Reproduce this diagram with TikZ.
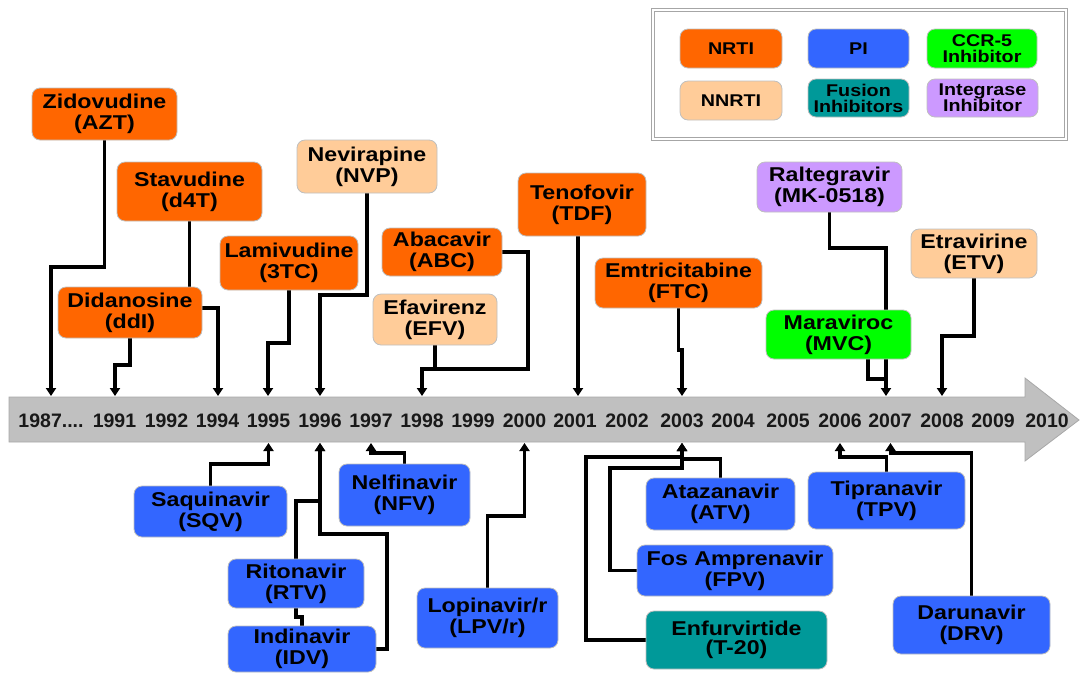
\documentclass[tikz,border=0pt]{standalone}
\usepackage{fontspec}
\usetikzlibrary{arrows.meta}
\newfontfamily\bx{Liberation Sans}[FakeStretch=1.16]
\newfontfamily\yrf{Liberation Sans}
\definecolor{nrti}{HTML}{FF6600}
\definecolor{nnrti}{HTML}{FFCC99}
\definecolor{pi}{HTML}{3366FF}
\definecolor{ccr}{HTML}{00FF00}
\definecolor{fus}{HTML}{009999}
\definecolor{intg}{HTML}{CC99FF}
\definecolor{tlgray}{HTML}{C0C0C0}
\definecolor{tledge}{HTML}{A8A8A8}
\pgfdeclarelayer{background}
\pgfsetlayers{background,main}
\tikzset{
  box/.style={rounded corners=8pt, draw=black!25, line width=0.8pt, inner sep=0pt,
    align=center, text=black, font=\bx\bfseries\fontsize{20}{21}\selectfont},
  leg/.style={box, font=\bx\bfseries\fontsize{17}{16}\selectfont},
  conn/.style={line width=3.1pt, draw=black},
  arr/.style={conn, -{Triangle[width=10pt,length=8pt]}},
  yr/.style={font=\yrf\bfseries\fontsize{19.5}{20}\selectfont, text=black!90, anchor=base, inner sep=0pt},
}
\begin{document}
\begin{tikzpicture}[x=1pt,y=-1pt]
\useasboundingbox (0,0) rectangle (1081,673);

% timeline arrow
\begin{pgfonlayer}{background}
\filldraw[fill=tlgray, draw=tledge, line width=0.8pt]
  (9,397) -- (1025,397) -- (1025,378) -- (1079,420) -- (1025,461) -- (1025,442) -- (9,442) -- cycle;
\end{pgfonlayer}

% years
\node[yr] (y87) at (51,427) {1987....};
\foreach \x/\t/\n in {114.5/1991/y91, 166.5/1992/y92, 217.5/1994/y94,
  268.5/1995/y95, 320/1996/y96, 371/1997/y97, 422/1998/y98, 473/1999/y99, 524.5/2000/y00,
  575/2001/y01, 627/2002/y02, 682/2003/y03, 733/2004/y04, 788/2005/y05, 840/2006/y06,
  890/2007/y07, 942/2008/y08, 993/2009/y09, 1047/2010/y10}
  \node[yr] (\n) at (\x,427) {\t};

% tip coordinates
\coordinate (u87) at (51,396);
\coordinate (u91) at (115,396);
\coordinate (u94) at (218,396);
\coordinate (u95) at (268,396);
\coordinate (u96) at (320,396);
\coordinate (u98) at (422,396);
\coordinate (u01) at (578,396);
\coordinate (u03) at (682,396);
\coordinate (u07) at (886,396);
\coordinate (u08) at (942,396);
\coordinate (l95) at (268.5,443);
\coordinate (l96) at (320,443);
\coordinate (l97) at (371,443);
\coordinate (l00) at (524.5,443);
\coordinate (l03) at (682,443);
\coordinate (l06) at (840,443);
\coordinate (l07) at (890.5,443);

% legend
\draw[draw=black!35, line width=1.1pt, double=white, double distance=1.2pt] (653,10) rectangle (1066,139);
\node[leg, fill=nrti, minimum width=102pt, minimum height=39pt] (lnrti) at (731,48.5) {NRTI};
\node[leg, fill=pi, minimum width=101pt, minimum height=39pt] (lpi) at (858.5,48.5) {PI};
\node[leg, fill=ccr, minimum width=110pt, minimum height=39pt] (lccr) at (982,48.5) {CCR-5\\Inhibitor};
\node[leg, fill=nnrti, minimum width=102pt, minimum height=39pt] (lnnrti) at (731,100.5) {NNRTI};
\node[leg, fill=fus, minimum width=101pt, minimum height=38pt] (lfus) at (858.5,98) {Fusion\\Inhibitors};
\node[leg, fill=intg, minimum width=111pt, minimum height=38pt] (lint) at (982.5,98) {Integrase\\Inhibitor};

% top boxes
\node[box, fill=nrti, minimum width=145pt, minimum height=52pt] (azt) at (104.5,114) {Zidovudine\\(AZT)};
\node[box, fill=nrti, minimum width=145pt, minimum height=59pt] (d4t) at (189.5,191.5) {Stavudine\\(d4T)};
\node[box, fill=nrti, minimum width=144pt, minimum height=51pt] (ddi) at (130,312.5) {Didanosine\\(ddI)};
\node[box, fill=nrti, minimum width=138pt, minimum height=54pt] (tc3) at (289,263) {Lamivudine\\(3TC)};
\node[box, fill=nnrti, minimum width=140pt, minimum height=53pt] (nvp) at (367,166.5) {Nevirapine\\(NVP)};
\node[box, fill=nrti, minimum width=120pt, minimum height=48pt] (abc) at (442,252) {Abacavir\\(ABC)};
\node[box, fill=nnrti, minimum width=124pt, minimum height=51pt] (efv) at (435,319.5) {Efavirenz\\(EFV)};
\node[box, fill=nrti, minimum width=128pt, minimum height=63pt] (tdf) at (582,204.5) {Tenofovir\\(TDF)};
\node[box, fill=nrti, minimum width=167pt, minimum height=50pt] (ftc) at (678.5,283) {Emtricitabine\\(FTC)};
\node[box, fill=intg, minimum width=145pt, minimum height=50pt] (mk) at (829.5,187) {Raltegravir\\(MK-0518)};
\node[box, fill=nnrti, minimum width=126pt, minimum height=49pt] (etv) at (974,253.5) {Etravirine\\(ETV)};
\node[box, fill=ccr, minimum width=145pt, minimum height=49pt] (mvc) at (838.5,334.5) {Maraviroc\\(MVC)};

% bottom boxes
\node[box, fill=pi, minimum width=153pt, minimum height=51pt] (sqv) at (210.5,511.5) {Saquinavir\\(SQV)};
\node[box, fill=pi, minimum width=131pt, minimum height=62pt] (nfv) at (404.5,495) {Nelfinavir\\(NFV)};
\node[box, fill=pi, minimum width=136pt, minimum height=49pt] (rtv) at (296,583.5) {Ritonavir\\(RTV)};
\node[box, fill=pi, minimum width=148pt, minimum height=46pt] (idv) at (302,649) {Indinavir\\(IDV)};
\node[box, fill=pi, minimum width=141pt, minimum height=60pt] (lpv) at (487.5,618) {Lopinavir/r\\(LPV/r)};
\node[box, fill=pi, minimum width=149pt, minimum height=52pt] (atv) at (720.5,504) {Atazanavir\\(ATV)};
\node[box, fill=pi, minimum width=196pt, minimum height=51pt] (fpv) at (735,570.5) {Fos Amprenavir\\(FPV)};
\node[box, fill=fus, minimum width=181pt, minimum height=58pt, font=\bx\bfseries\fontsize{20}{19}\selectfont] (t20) at (736.5,640) {Enfurvirtide\\(T-20)};
\node[box, fill=pi, minimum width=157pt, minimum height=57pt] (tpv) at (886.5,500.5) {Tipranavir\\(TPV)};
\node[box, fill=pi, minimum width=157pt, minimum height=58pt] (drv) at (971.5,625) {Darunavir\\(DRV)};

% connectors
\begin{pgfonlayer}{background}
\draw[arr] (azt.south) -- (azt.south |- 0,267) -| (u87);
\draw[arr] (d4t.south) -- (d4t.south |- 0,308) -| (u94);
\draw[arr] (ddi.south) -- (ddi.south |- 0,365) -| (u91);
\draw[arr] (tc3.south) -- (tc3.south |- 0,343) -| (u95);
\draw[arr] (nvp.south) -- (nvp.south |- 0,295) -| (u96);
\draw[arr] (abc.east) -| (528,369) -| (u98);
\draw[conn] (efv.south) -- (efv.south |- 0,369) -- (422,369);
\draw[arr] (tdf.south -| u01) -- (u01);
\draw[arr] (ftc.south) -- (ftc.south |- 0,350) -| (u03);
\draw[arr] (mk.south) -- (mk.south |- 0,248) -| (u07);
\draw[conn] (868,0 |- mvc.south) -- (868,379) -- (886,379);
\draw[arr] (etv.south) -- (etv.south |- 0,336) -| (u08);

\draw[arr] (sqv.north) -- (sqv.north |- 0,464) -| (l95);
\draw[arr] (nfv.north) -- (nfv.north |- 0,453) -| (l97);
\draw[arr] (rtv.north) -- (rtv.north |- 0,501) -| (l96);
\draw[arr] (idv.east) -| (387,534) -| (l96);
\draw[conn] (rtv.south) -- (rtv.south |- 0,617) -| (idv.north);
\draw[arr] (lpv.north) -- (lpv.north |- 0,516) -| (l00);
\draw[arr] (atv.north) -- (atv.north |- 0,459) -| (l03);
\draw[arr] (fpv.west) -| (610,468) -| (l03);
\draw[arr] (t20.west) -| (586,457) -| (l03);
\draw[arr] (tpv.north) -- (tpv.north |- 0,457) -| (l06);
\draw[arr] (drv.north) -- (drv.north |- 0,453) -| (l07);
\end{pgfonlayer}
\end{tikzpicture}
\end{document}
